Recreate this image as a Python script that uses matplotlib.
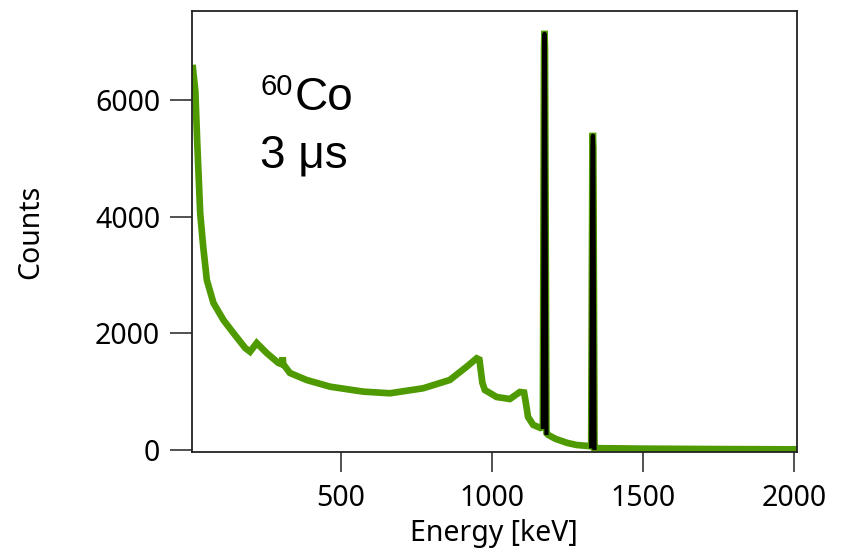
import numpy as np
import matplotlib
matplotlib.use('Agg')
import matplotlib.pyplot as plt

# 60Co spectrum (energy in keV, counts)
energy = [10, 18, 24, 28, 34, 44, 56, 78, 111, 144, 183, 199, 221, 254, 293,
          305, 307, 309, 331, 386, 464, 574, 662, 772, 860, 916, 949, 958,
          968, 976, 1015, 1059, 1092, 1106, 1112, 1119, 1136, 1160, 1168,
          1172, 1173.5, 1175, 1180, 1186, 1210, 1249, 1280, 1315, 1328,
          1332, 1333.5, 1335, 1339, 1350, 1500, 1700, 2000, 2008]
counts = [6550, 6150, 5300, 4800, 4060, 3485, 2914, 2520, 2228, 2005, 1748,
          1685, 1834, 1663, 1491, 1470, 1590, 1470, 1320, 1200, 1085, 1000,
          972, 1058, 1200, 1428, 1572, 1550, 1150, 1028, 908, 874, 994, 985,
          800, 566, 430, 377, 390, 6900, 7190, 6900, 290, 257, 190, 120, 85,
          69, 62, 5200, 5440, 5200, 34, 30, 22, 16, 10, 10]

# black overlay on the two photopeaks
peak1_energy = [1168, 1172, 1173.5, 1175, 1180]
peak1_counts = [395, 6900, 7140, 6900, 290]
peak2_energy = [1328, 1332, 1333.5, 1335, 1339]
peak2_counts = [62, 5200, 5390, 5200, 34]

plt.rcParams['font.family'] = ['Noto Sans', 'DejaVu Sans']

fig = plt.figure(figsize=(8.51, 5.52), dpi=100)
ax = fig.add_axes([0.2253, 0.1812, 0.7112, 0.7989])

ax.plot(energy, counts, color='#4f9a00', lw=4.8, solid_joinstyle='miter',
        solid_capstyle='projecting')
ax.plot(peak1_energy, peak1_counts, color='black', lw=3.0)
ax.plot(peak2_energy, peak2_counts, color='black', lw=3.0)

ax.set_xlim(6, 2009)
ax.set_ylim(-35, 7530)
ax.set_xticks([500, 1000, 1500, 2000])
ax.set_yticks([0, 2000, 4000, 6000])

for s in ax.spines.values():
    s.set_linewidth(1.3)
    s.set_color('#222222')
ax.tick_params(axis='y', length=15.8, width=1.1, pad=7, labelsize=20.5,
               color='#222222')
ax.tick_params(axis='x', length=14.4, width=1.1, pad=9, labelsize=20.5,
               color='#222222')

ax.set_xlabel('Energy [keV]', fontsize=20.5, labelpad=4)
ax.set_ylabel('Counts', fontsize=20.5)
ax.yaxis.set_label_coords(-0.242, 0.5)

# annotation, placed in figure pixels
W, H = 851, 552
fig.text(261 / W, 1 - 95 / H, '60', fontsize=21, family='Liberation Sans',
         va='baseline')
fig.text(295 / W, 1 - 110 / H, 'Co', fontsize=33, family='Liberation Sans',
         va='baseline')
fig.text(260 / W, 1 - 167 / H, '3 μs', fontsize=33, family='Liberation Sans',
         va='baseline')

fig.savefig('out.png', dpi=100)
